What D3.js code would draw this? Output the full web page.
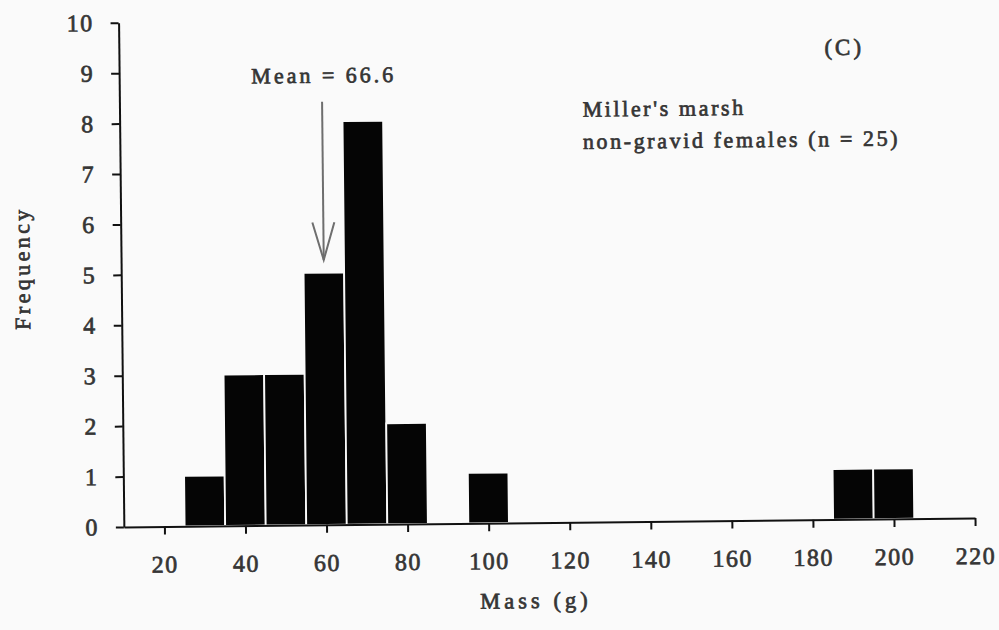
<!DOCTYPE html>
<html>
<head>
<meta charset="utf-8">
<script src="https://cdn.jsdelivr.net/npm/d3@7"></script>
<style>
  html, body { margin: 0; padding: 0; background: #fafafa; }
  svg { display: block; }
  text { font-family: "Liberation Serif", "Times New Roman", serif; fill: #353535; stroke: #353535; stroke-width: 0.7; }
</style>
</head>
<body>
<svg id="chart" width="999" height="630"></svg>
<script>
// Mass classes (g) and how many non-gravid females fell in each
const binLower = [25, 35, 45, 55, 65, 75, 95, 185, 195];
const binUpper = [35, 45, 55, 65, 75, 85, 105, 195, 205];
const frequency = [1, 3, 3, 5, 8, 2, 1, 1, 1];

const massTicks = [20, 40, 60, 80, 100, 120, 140, 160, 180, 200, 220];
const freqTicks = [0, 1, 2, 3, 4, 5, 6, 7, 8, 9, 10];

const panelLabel = "(C)";
const siteLines = ["Miller's marsh", "non-gravid females (n = 25)"];
const meanLabel = "Mean = 66.6";
const meanArrowMass = 60;   // where the mean arrow points on the mass axis

const xLabel = "Mass (g)";
const yLabel = "Frequency";

const svg = d3.select("#chart");
// the printed panel sits very slightly tilted on the page
const g = svg.append("g").attr("transform", "rotate(-0.6, 550, 300)");

const x = d3.scaleLinear().domain([10, 220]).range([121.5, 972.7]);
const y = d3.scaleLinear().domain([0, 10]).range([522.5, 18.2]);

const bins = binLower.map((lo, i) => ({ lo, hi: binUpper[i], n: frequency[i] }));

// histogram bars
g.append("g").selectAll("rect")
  .data(bins)
  .join("rect")
  .attr("x", d => x(d.lo))
  .attr("width", d => x(d.hi) - x(d.lo))
  .attr("y", d => y(d.n))
  .attr("height", d => y(0) - y(d.n))
  .attr("fill", "#050505")
  .attr("stroke", "#fafafa")
  .attr("stroke-width", 1.8);

// axes
const yAxis = g.append("g")
  .attr("transform", `translate(${x(10)},0)`)
  .call(d3.axisLeft(y).tickValues(freqTicks).tickSize(8).tickSizeOuter(0).tickPadding(17));

const xAxis = g.append("g")
  .attr("transform", `translate(0,${y(0)})`)
  .call(d3.axisBottom(x).tickValues(massTicks).tickFormat(d3.format("d")).tickSize(8).tickSizeOuter(0).tickPadding(21));

[yAxis, xAxis].forEach(ax => {
  ax.select(".domain").attr("stroke", "#111").attr("stroke-width", 2);
  ax.selectAll(".tick line").attr("stroke", "#111").attr("stroke-width", 2);
  ax.selectAll(".tick text")
    .attr("font-size", 24)
    .style("letter-spacing", "1.5px");
});

// axis titles
g.append("text")
  .attr("x", 532.8).attr("y", 607.9)
  .attr("text-anchor", "middle")
  .attr("font-size", 22.5)
  .style("letter-spacing", "4px")
  .text(xLabel);

g.append("text")
  .attr("transform", "translate(30,262.5) rotate(-90)")
  .attr("text-anchor", "middle")
  .attr("font-size", 22)
  .style("letter-spacing", "3.4px")
  .text(yLabel);

// panel letter and site description
g.append("text")
  .attr("x", 827).attr("y", 58)
  .attr("font-size", 23)
  .style("letter-spacing", "3px")
  .text(panelLabel);

g.append("g").selectAll("text")
  .data(siteLines)
  .join("text")
  .attr("x", 584.6)
  .attr("y", (d, i) => 117 + i * 32.3)
  .attr("font-size", 22)
  .style("letter-spacing", "2.6px")
  .text(d => d);

// mean annotation with a downward arrow
const ax0 = x(meanArrowMass);
g.append("text")
  .attr("x", ax0 + 2).attr("y", 80.3)
  .attr("text-anchor", "middle")
  .attr("font-size", 22)
  .style("letter-spacing", "3px")
  .text(meanLabel);

const arrowTop = 99.3, arrowTip = 257.6, armY = 220, armHalf = 11;
g.append("line")
  .attr("x1", ax0).attr("x2", ax0)
  .attr("y1", arrowTop).attr("y2", arrowTip)
  .attr("stroke", "#6e6e6e").attr("stroke-width", 2);
g.append("path")
  .attr("d", `M${ax0 - armHalf},${armY}L${ax0},${arrowTip}L${ax0 + armHalf},${armY}`)
  .attr("fill", "none")
  .attr("stroke", "#6e6e6e").attr("stroke-width", 2)
  .attr("stroke-linejoin", "miter");
</script>
</body>
</html>
